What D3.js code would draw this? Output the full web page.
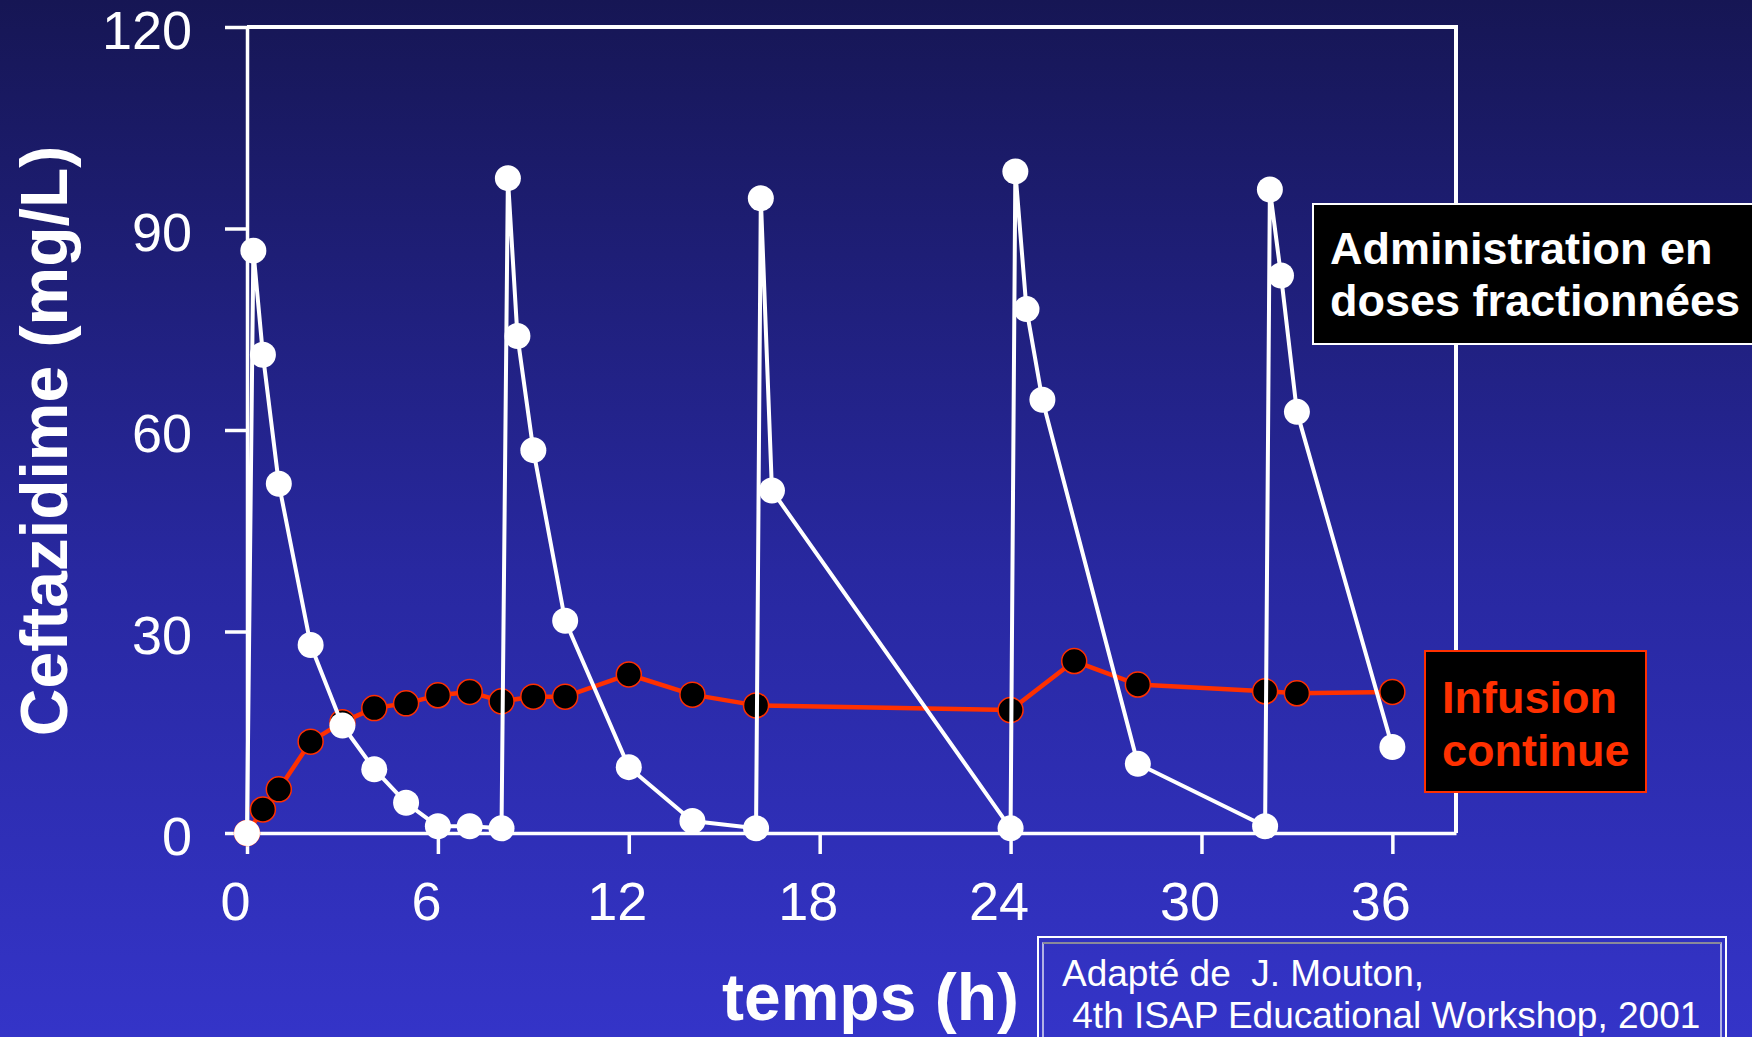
<!DOCTYPE html>
<html>
<head>
<meta charset="utf-8">
<script src="https://cdn.jsdelivr.net/npm/d3@7"></script>
<style>
  html, body { margin: 0; padding: 0; background: #22228a; }
  svg { display: block; }
  text { font-family: "Liberation Sans", Arial, sans-serif; }
</style>
</head>
<body>
<svg id="chart" width="1752" height="1037"></svg>
<script>
// Ceftazidime plasma concentration (mg/L) over time (h)

// Intermittent dosing: time points (h) and concentrations (mg/L)
const doseTimes = [0, 0.2, 0.5, 1, 2, 3, 4, 5, 6, 7, 8, 8.2, 8.5, 9, 10, 12, 14, 16, 16.15, 16.5,
                   24, 24.15, 24.5, 25, 28, 32, 32.15, 32.5, 33, 36];
const doseConc  = [0, 86.7, 71.2, 52, 28, 16, 9.5, 4.5, 1.0, 1.0, 0.7, 97.5, 74, 57, 31.6, 9.8, 1.8, 0.7, 94.5, 51,
                   0.7, 98.5, 78, 64.5, 10.3, 1.0, 95.8, 83, 62.7, 12.8];

// Continuous infusion: time points (h) and concentrations (mg/L)
const infTimes = [0, 0.5, 1, 2, 3, 4, 5, 6, 7, 8, 9, 10, 12, 14, 16, 24, 26, 28, 32, 33, 36];
const infConc  = [0, 3.5, 6.5, 13.6, 16.5, 18.6, 19.3, 20.5, 21.0, 19.6, 20.3, 20.3, 23.6, 20.6, 19.0,
                  18.3, 25.6, 22.1, 21.1, 20.8, 21.0];

// Axis ticks
const xTicks = [0, 6, 12, 18, 24, 30, 36];
const yTicks = [0, 30, 60, 90, 120];

// Texts
const yTitle = "Ceftazidime (mg/L)";
const xTitle = "temps (h)";
const doseLabel = ["Administration en", "doses fractionnées"];
const infLabel = ["Infusion", "continue"];
const sourceLines = ["Adapté de  J. Mouton,", " 4th ISAP Educational Workshop, 2001"];

const W = 1752, H = 1037;
const svg = d3.select("#chart");

// background gradient
const defs = svg.append("defs");
const grad = defs.append("linearGradient").attr("id", "bg")
  .attr("x1", 0).attr("y1", 0).attr("x2", 0).attr("y2", 1);
grad.append("stop").attr("offset", "0%").attr("stop-color", "#161654");
grad.append("stop").attr("offset", "55%").attr("stop-color", "#2828a0");
grad.append("stop").attr("offset", "100%").attr("stop-color", "#3434c8");
svg.append("rect").attr("width", W).attr("height", H).attr("fill", "url(#bg)");

const plot = { left: 247, right: 1456, top: 27, bottom: 833 };
const x = d3.scaleLinear().domain([0, 38]).range([plot.left, plot.right]);
const y = d3.scaleLinear().domain([0, 120]).range([plot.bottom, plot.top]);

// frame: top and right edges
svg.append("path")
  .attr("d", `M${plot.left},${plot.top}H${plot.right}V${plot.bottom}`)
  .attr("fill", "none").attr("stroke", "#fff").attr("stroke-width", 4);

// axes
const xAxis = svg.append("g")
  .attr("transform", `translate(0,${plot.bottom})`)
  .call(d3.axisBottom(x).tickValues(xTicks).tickSize(21).tickSizeOuter(0).tickFormat(d3.format("d")));
const yAxis = svg.append("g")
  .attr("transform", `translate(${plot.left},0)`)
  .call(d3.axisLeft(y).tickValues(yTicks).tickSize(22).tickSizeOuter(0).tickFormat(d3.format("d")));

[xAxis, yAxis].forEach(g => {
  g.select(".domain").attr("stroke", "#fff").attr("stroke-width", 3.5);
  g.selectAll(".tick line").attr("stroke", "#fff").attr("stroke-width", 3.5);
  g.selectAll(".tick text").attr("fill", "#fff").style("font-size", "54px");
});
xAxis.selectAll(".tick text").attr("y", 87).attr("dy", 0).attr("x", -12);
yAxis.selectAll(".tick text").attr("x", -55).attr("dy", "0.4em");

// continuous infusion series
const infData = infTimes.map((t, i) => ({ t, c: infConc[i] }));
const doseData = doseTimes.map((t, i) => ({ t, c: doseConc[i] }));
const line = d3.line().x(d => x(d.t)).y(d => y(d.c));

svg.append("path").datum(infData)
  .attr("d", line).attr("fill", "none")
  .attr("stroke", "#ff3000").attr("stroke-width", 4.5).attr("stroke-linejoin", "round");
svg.append("g").selectAll("circle").data(infData).join("circle")
  .attr("cx", d => x(d.t)).attr("cy", d => y(d.c)).attr("r", 12.5)
  .attr("fill", "#000").attr("stroke", "#ff3000").attr("stroke-width", 1.5);

// intermittent dosing series
svg.append("path").datum(doseData)
  .attr("d", line).attr("fill", "none")
  .attr("stroke", "#fff").attr("stroke-width", 4).attr("stroke-linejoin", "round");
svg.append("g").selectAll("circle").data(doseData).join("circle")
  .attr("cx", d => x(d.t)).attr("cy", d => y(d.c)).attr("r", 13)
  .attr("fill", "#fff");

// axis titles
svg.append("text")
  .attr("transform", "translate(67,441) rotate(-90)")
  .attr("text-anchor", "middle")
  .attr("fill", "#fff").style("font-size", "66px").style("font-weight", "bold")
  .text(yTitle);
svg.append("text")
  .attr("x", 1019).attr("y", 1020).attr("text-anchor", "end")
  .attr("fill", "#fff").style("font-size", "66px").style("font-weight", "bold")
  .text(xTitle);

// series labels
svg.append("rect").attr("x", 1313).attr("y", 204).attr("width", 460).attr("height", 140)
  .attr("fill", "#000").attr("stroke", "#fff").attr("stroke-width", 2);
svg.append("text").attr("fill", "#fff").style("font-size", "45px").style("font-weight", "bold")
  .selectAll("tspan").data(doseLabel).join("tspan")
  .attr("x", 1330).attr("y", (d, i) => 264 + i * 52).text(d => d);

svg.append("rect").attr("x", 1425).attr("y", 651).attr("width", 221).attr("height", 141)
  .attr("fill", "#000").attr("stroke", "#ff3000").attr("stroke-width", 2);
svg.append("text").attr("fill", "#ff3000").style("font-size", "45px").style("font-weight", "bold")
  .selectAll("tspan").data(infLabel).join("tspan")
  .attr("x", 1442).attr("y", (d, i) => 713 + i * 53).text(d => d);

// source box with double border
svg.append("rect").attr("x", 1038).attr("y", 937).attr("width", 688).attr("height", 120)
  .attr("fill", "none").attr("stroke", "#fff").attr("stroke-width", 2);
svg.append("rect").attr("x", 1043).attr("y", 943).attr("width", 678).attr("height", 110)
  .attr("fill", "none").attr("stroke", "#dcdcf0").attr("stroke-width", 1.5);
svg.append("line").attr("x1", 1043).attr("x2", 1721).attr("y1", 943).attr("y2", 943)
  .attr("stroke", "#8a8a9a").attr("stroke-width", 2);
svg.append("text").attr("fill", "#fff").style("font-size", "37px").style("white-space", "pre")
  .selectAll("tspan").data(sourceLines).join("tspan")
  .attr("x", 1062).attr("y", (d, i) => 986 + i * 42).text(d => d);
</script>
</body>
</html>
